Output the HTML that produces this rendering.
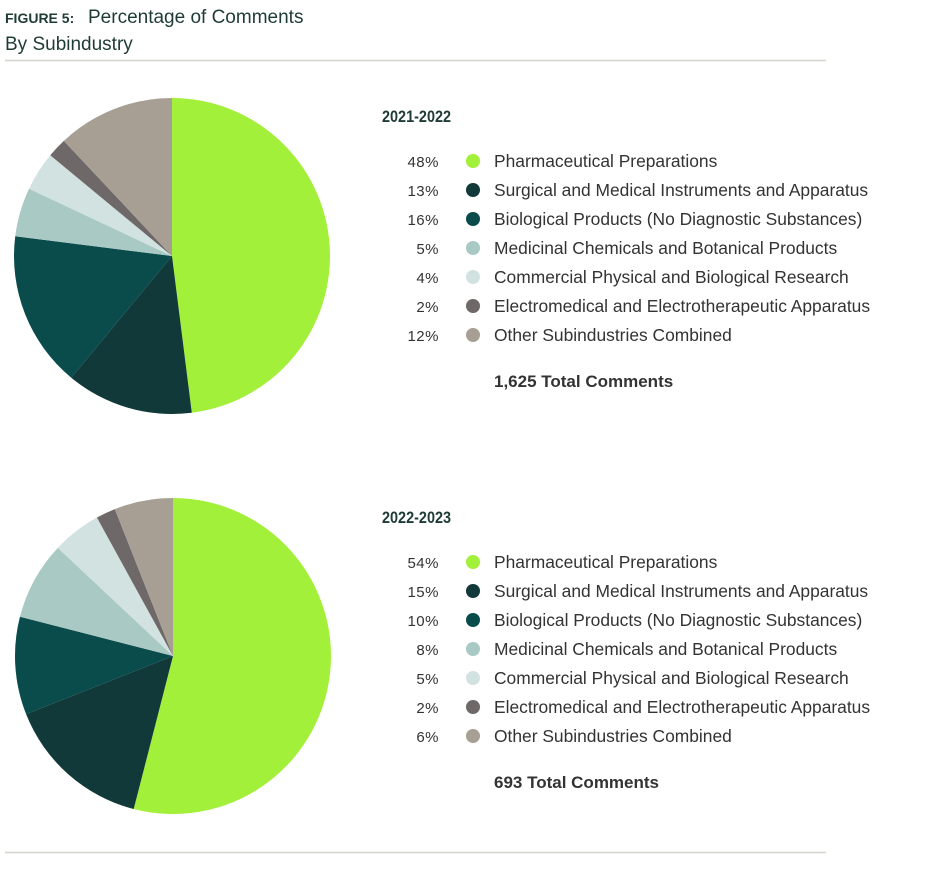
<!DOCTYPE html>
<html><head><meta charset="utf-8"><style>
body{margin:0;background:#fff;width:945px;height:890px;overflow:hidden;font-family:"Liberation Sans",sans-serif;color:#1f3b36}
</style></head><body>
<svg width="945" height="890" id="svg">
<text x="5" y="23" font-size="14" font-weight="bold" fill="#1f3b36">FIGURE 5:</text>
<text x="88" y="23" font-size="19" fill="#1f3b36">Percentage of Comments</text>
<text x="5" y="50" font-size="19" fill="#1f3b36">By Subindustry</text>
<line x1="5" y1="60.5" x2="826" y2="60.5" stroke="#d6d3cc" stroke-width="1.5"/>
<line x1="5" y1="852.5" x2="826" y2="852.5" stroke="#d6d3cc" stroke-width="1.5"/>
</svg>
<script>
const categories=["Pharmaceutical Preparations","Surgical and Medical Instruments and Apparatus","Biological Products (No Diagnostic Substances)","Medicinal Chemicals and Botanical Products","Commercial Physical and Biological Research","Electromedical and Electrotherapeutic Apparatus","Other Subindustries Combined"];
const colors=["#a3f03a","#11393a","#0a4b4b","#a9c9c4","#d2e2e1","#6e6868","#a89f94"];
const periods=["2021-2022","2022-2023"];
const values2122=[48,13,16,5,4,2,12];
const values2223=[54,15,10,8,5,2,6];
const totals=["1,625","693"];
const svg=document.getElementById('svg');
const NS="http://www.w3.org/2000/svg";
function mk(t,a){const e=document.createElementNS(NS,t);for(const k in a)e.setAttribute(k,a[k]);svg.appendChild(e);return e;}
[values2122,values2223].forEach((vals,p)=>{
  const cx=172+p,cy=256+p*400,r=158,off=p*401;
  const sum=vals.reduce((a,b)=>a+b,0);
  let ang=0;
  vals.forEach((v,i)=>{
    const a0=ang/sum*2*Math.PI,a1=(ang+v)/sum*2*Math.PI;ang+=v;
    const x0=cx+r*Math.sin(a0),y0=cy-r*Math.cos(a0),x1=cx+r*Math.sin(a1),y1=cy-r*Math.cos(a1);
    const s=mk('path',{d:`M${cx},${cy}L${x0},${y0}A${r},${r} 0 ${a1-a0>Math.PI?1:0} 1 ${x1},${y1}Z`,fill:colors[i]});
    
    
  });
  const t=mk('text',{x:382,y:122+off,'font-size':17,'font-weight':'bold',fill:'#1f3b36',transform:`translate(382,0) scale(0.85,1) translate(-382,0)`});
  t.textContent=periods[p];
  
  
  vals.forEach((v,i)=>{
    const y=161+i*29+off;
    const pt=mk('text',{x:439,y:y+6,'font-size':15,'text-anchor':'end',fill:'#333','letter-spacing':'0.5'});
    pt.textContent=v+'%';
    
    
    const c=mk('circle',{cx:473,cy:y,r:7,fill:colors[i]});
    
    
    const l=mk('text',{x:494,y:y+6,'font-size':17.4,fill:'#333'});
    l.textContent=categories[i];
    
    
  });
  const tt=mk('text',{x:494,y:387+off,'font-size':17,'font-weight':'bold',fill:'#333'});
  tt.textContent=totals[p]+' Total Comments';
  
  
});
</script>
</body></html>
